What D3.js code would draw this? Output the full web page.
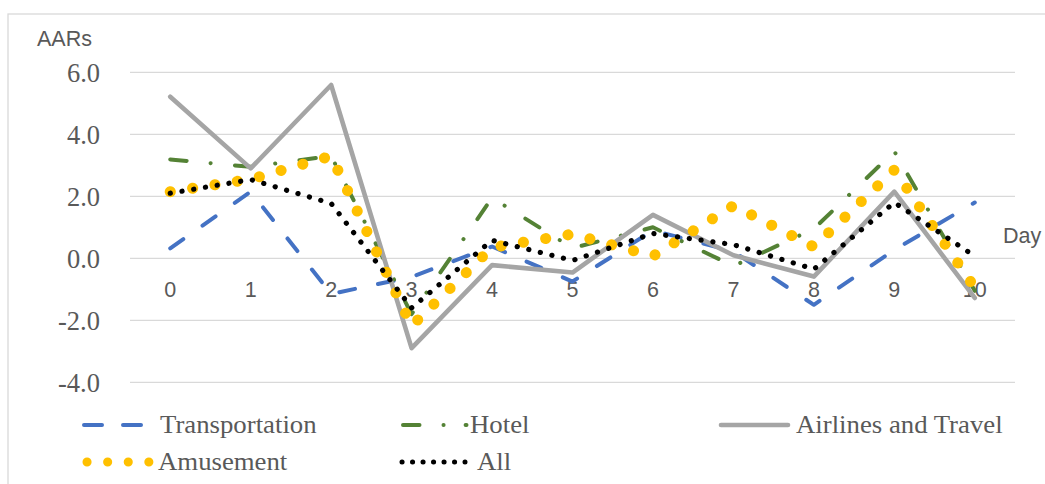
<!DOCTYPE html>
<html>
<head>
<meta charset="utf-8">
<script src="https://cdn.jsdelivr.net/npm/d3@7"></script>
<style>
  html, body { margin: 0; padding: 0; background: #fff; }
  svg { display: block; }
</style>
</head>
<body>
<svg id="chart" width="1045" height="484"></svg>
<script>
// ---- data ----
const days = ["0", "1", "2", "3", "4", "5", "6", "7", "8", "9", "10"];
const transportation = [0.32, 2.15, -1.15, -0.6, 0.38, -0.75, 0.9, 0.22, -1.5, 0.27, 1.8];
const hotel = [3.19, 2.95, 3.3, -1.8, 1.95, 0.33, 1.0, -0.25, 0.95, 3.45, -1.05];
const airlines = [5.21, 2.9, 5.59, -2.9, -0.22, -0.46, 1.4, 0.1, -0.59, 2.15, -1.28];
const amusement = [2.15, 2.55, 3.3, -2.18, 0.35, 0.78, 0.07, 1.7, 0.37, 2.85, -0.95];
const allSectors = [2.1, 2.54, 1.77, -1.6, 0.58, -0.07, 0.8, 0.44, -0.35, 1.8, 0.07];
const yTicks = [-4, -2, 0, 2, 4, 6];
const yTickLabels = ["-4.0", "-2.0", "0.0", "2.0", "4.0", "6.0"];
const seriesNames = ["Transportation", "Hotel", "Airlines and Travel", "Amusement", "All"];

// ---- styles ----
const styles = {
  "Transportation": { color: "#4472c4", width: 4, dash: "16,23.5", ldash: "18,21" },
  "Hotel": { color: "#548235", width: 4, dash: "16.5,24,0.1,24.4", ldash: "16.5,24,0.1,22" },
  "Airlines and Travel": { color: "#a5a5a5", width: 4.6, dash: null, ldash: null },
  "Amusement": { color: "#ffc000", width: 11, dash: "0.1,22.5", ldash: "0.1,20.5", lwidth: 9 },
  "All": { color: "#000000", width: 5.2, dash: "0.1,11.8", ldash: "0.1,10.4", lwidth: 5 }
};
const seriesValues = [transportation, hotel, airlines, amusement, allSectors];

const svg = d3.select("#chart");
const serif = "'Liberation Serif', 'Times New Roman', serif";
const sans = "'Liberation Sans', Arial, sans-serif";
const textColor = "#595959";

// frame
svg.append("rect").attr("x", 8).attr("y", 14).attr("width", 1200).attr("height", 600)
  .attr("fill", "none").attr("stroke", "#d9d9d9").attr("stroke-width", 1.3);

const x = d3.scaleBand().domain(days).range([130, 1015]);
const y = d3.scaleLinear().domain([-4, 6]).range([382.3, 72.3]);
const cx = d => x(d) + x.bandwidth() / 2;

// gridlines
svg.append("g").selectAll("line").data(yTicks).join("line")
  .attr("x1", 130).attr("x2", 1015)
  .attr("y1", d => y(d)).attr("y2", d => y(d))
  .attr("stroke", "#d9d9d9").attr("stroke-width", 1.3);

// y tick labels
svg.append("g").selectAll("text").data(yTicks).join("text")
  .attr("x", 100).attr("y", d => y(d)).attr("dy", "0.35em")
  .attr("text-anchor", "end")
  .attr("font-family", serif).attr("font-size", 26.5).attr("fill", textColor)
  .text((d, i) => yTickLabels[i]);

// x tick labels
svg.append("g").selectAll("text").data(days).join("text")
  .attr("x", d => cx(d)).attr("y", 297)
  .attr("text-anchor", "middle")
  .attr("font-family", sans).attr("font-size", 21.5).attr("fill", textColor)
  .text(d => d);

// axis titles
svg.append("text").attr("x", 37).attr("y", 46)
  .attr("font-family", sans).attr("font-size", 21.5).attr("fill", textColor).text("AARs");
svg.append("text").attr("x", 1003).attr("y", 243)
  .attr("font-family", sans).attr("font-size", 21.5).attr("fill", textColor).text("Day");

// lines
const line = d3.line().x((d, i) => cx(days[i])).y(d => y(d));
seriesNames.forEach((name, k) => {
  const s = styles[name];
  svg.append("path").datum(seriesValues[k])
    .attr("d", line)
    .attr("fill", "none")
    .attr("stroke", s.color)
    .attr("stroke-width", s.width)
    .attr("stroke-linecap", "round")
    .attr("stroke-linejoin", "round")
    .attr("stroke-dasharray", s.dash);
});

// legend
const legendLayout = [
  { x0: 84, x1: 150, tx: 160, ty: 433 },
  { x0: 403, x1: 466.5, tx: 470, ty: 433 },
  { x0: 721, x1: 788, tx: 796, ty: 433 },
  { x0: 87, x1: 150, tx: 158, ty: 470 },
  { x0: 402, x1: 465, tx: 477, ty: 470 }
];
seriesNames.forEach((name, k) => {
  const s = styles[name];
  const L = legendLayout[k];
  svg.append("line")
    .attr("x1", L.x0).attr("x2", L.x1)
    .attr("y1", L.ty - 8).attr("y2", L.ty - 8)
    .attr("stroke", s.color)
    .attr("stroke-width", s.lwidth || s.width)
    .attr("stroke-linecap", "round")
    .attr("stroke-dasharray", s.ldash);
  svg.append("text")
    .attr("transform", `translate(${L.tx},${L.ty}) scale(1.05,1)`)
    .attr("font-family", serif).attr("font-size", 25.5).attr("fill", textColor)
    .text(name);
});
</script>
</body>
</html>
